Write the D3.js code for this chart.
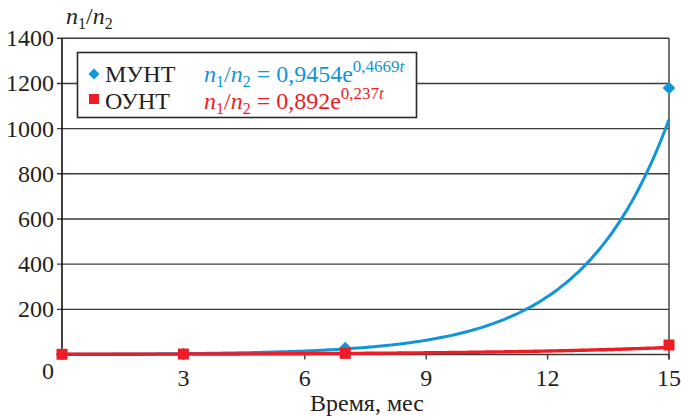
<!DOCTYPE html>
<html>
<head>
<meta charset="utf-8">
<script src="https://cdnjs.cloudflare.com/ajax/libs/d3/7.8.5/d3.min.js"></script>
<style>
  body { margin: 0; background: #fff; }
  svg text, svg tspan { font-family: 'Liberation Serif' !important; }
</style>
</head>
<body>
<div id="chart"></div>
<script>
// data
var months = [0, 3, 7, 15];
var muntValues = [1, 2, 29, 1180];   // МУНТ, diamonds
var ountValues = [1, 2, 5, 42];      // ОУНТ, squares
var yTicks = [200, 400, 600, 800, 1000, 1200, 1400];
var xTicks = [3, 6, 9, 12, 15];
var seriesNames = ['МУНТ', 'ОУНТ'];
// trend lines as printed in the legend: n1/n2 = a * e^(b t)
var trendA = [0.9454, 0.892];
var trendB = [0.4669, 0.237];
var trendLabelA = ['0,9454', '0,892'];
var trendLabelB = ['0,4669', '0,237'];

var blue = '#0f95d8', red = '#ee1c25', gridColor = '#3a3a3a', ink = '#231f20';
var serif = "'Liberation Serif'";

var width = 681, height = 417;
var svg = d3.select('#chart').append('svg')
  .attr('width', width)
  .attr('height', height);

// every label goes through here so the serif font sits on the element itself
function label(parent, size, color) {
  return parent.append('text')
    .attr('font-size', size)
    .attr('fill', color || ink)
    .style('font-family', serif);
}

var x = d3.scaleLinear().domain([0, 15]).range([62, 669]);
var y = d3.scaleLinear().domain([0, 1400]).range([354.5, 38.3]);

/*
  grid, ticks and frame
*/
svg.append('g').selectAll('line')
  .data(yTicks)
  .enter().append('line')
    .attr('x1', 57).attr('x2', x(15))
    .attr('y1', function(d) { return y(d); })
    .attr('y2', function(d) { return y(d); })
    .attr('stroke', gridColor)
    .attr('stroke-width', 1.4);

yTicks.forEach(function(d) {
  label(svg, 24)
    .attr('x', 54)
    .attr('y', y(d) + 8)
    .attr('text-anchor', 'end')
    .text(d);
});

// x axis line + ticks
svg.append('line')
  .attr('x1', x(0)).attr('x2', x(15))
  .attr('y1', y(0)).attr('y2', y(0))
  .attr('stroke', gridColor).attr('stroke-width', 1.4);

svg.append('g').selectAll('line')
  .data(xTicks)
  .enter().append('line')
    .attr('x1', function(d) { return x(d); })
    .attr('x2', function(d) { return x(d); })
    .attr('y1', y(0)).attr('y2', y(0) + 5)
    .attr('stroke', gridColor).attr('stroke-width', 1.4);

xTicks.forEach(function(d) {
  label(svg, 24)
    .attr('x', x(d))
    .attr('y', 386)
    .attr('text-anchor', 'middle')
    .text(d);
});

label(svg, 24)
  .attr('x', 48).attr('y', 379)
  .attr('text-anchor', 'middle')
  .text('0');

// left and right frame
svg.append('line')
  .attr('x1', x(0)).attr('x2', x(0))
  .attr('y1', y(1400)).attr('y2', y(0))
  .attr('stroke', '#111').attr('stroke-width', 1.6);
svg.append('line')
  .attr('x1', x(15)).attr('x2', x(15))
  .attr('y1', y(1400)).attr('y2', y(0) + 5)
  .attr('stroke', gridColor).attr('stroke-width', 1.4);

// n1/n2 with subscripts
function ratio(t) {
  t.append('tspan').attr('font-style', 'italic').text('n');
  t.append('tspan').attr('font-size', 16).attr('dy', 5).text('1');
  t.append('tspan').attr('dy', -5).text('/');
  t.append('tspan').attr('font-style', 'italic').text('n');
  t.append('tspan').attr('font-size', 16).attr('dy', 5).text('2');
  return t;
}

// axis titles
ratio(label(svg, 24).attr('x', 66).attr('y', 24));

label(svg, 24)
  .attr('x', 367).attr('y', 411)
  .attr('text-anchor', 'middle')
  .text('Время, мес');

/*
  trend curves
*/
var line = d3.line()
  .x(function(d) { return x(d[0]); })
  .y(function(d) { return y(d[1]); })
  .curve(d3.curveMonotoneX);

function trend(i) {
  return d3.range(0, 15.01, 0.1).map(function(t) {
    return [t, trendA[i] * Math.exp(trendB[i] * t)];
  });
}

svg.append('path')
  .attr('d', line(trend(0)))
  .attr('fill', 'none')
  .attr('stroke', blue)
  .attr('stroke-width', 3);

// diamonds
var diamond = d3.symbol().type(d3.symbolSquare).size(80);
svg.append('g').selectAll('path')
  .data(months)
  .enter().append('path')
    .attr('d', diamond)
    .attr('transform', function(d, i) {
      return 'translate(' + x(d) + ',' + y(muntValues[i]) + ') rotate(45)';
    })
    .attr('fill', blue);

svg.append('path')
  .attr('d', line(trend(1)))
  .attr('fill', 'none')
  .attr('stroke', red)
  .attr('stroke-width', 3.4);

svg.append('g').selectAll('rect')
  .data(months)
  .enter().append('rect')
    .attr('x', function(d) { return x(d) - 5.5; })
    .attr('y', function(d, i) { return y(ountValues[i]) - 5.5; })
    .attr('width', 11).attr('height', 11)
    .attr('fill', red);

/*
  legend
*/
var legend = svg.append('g');
legend.append('rect')
  .attr('x', 77.5).attr('y', 52.5)
  .attr('width', 339).attr('height', 65)
  .attr('fill', '#fff')
  .attr('stroke', '#2a2a2a')
  .attr('stroke-width', 1.6);

var rowY = [82, 109], colors = [blue, red];

legend.append('path')
  .attr('d', d3.symbol().type(d3.symbolSquare).size(60))
  .attr('transform', 'translate(94,74) rotate(45)')
  .attr('fill', blue);
legend.append('rect')
  .attr('x', 89).attr('y', 94)
  .attr('width', 10).attr('height', 10)
  .attr('fill', red);

seriesNames.forEach(function(name, i) {
  label(legend, 24)
    .attr('x', 105).attr('y', rowY[i])
    .text(name);

  var f = ratio(label(legend, 24, colors[i]).attr('x', 204).attr('y', rowY[i]));
  f.append('tspan').attr('dy', -5).text(' = ' + trendLabelA[i] + 'e');
  f.append('tspan').attr('font-size', 17).attr('dy', -10).text(trendLabelB[i]);
  f.append('tspan').attr('font-size', 17).attr('font-style', 'italic').text('t');
});
</script>
</body>
</html>
